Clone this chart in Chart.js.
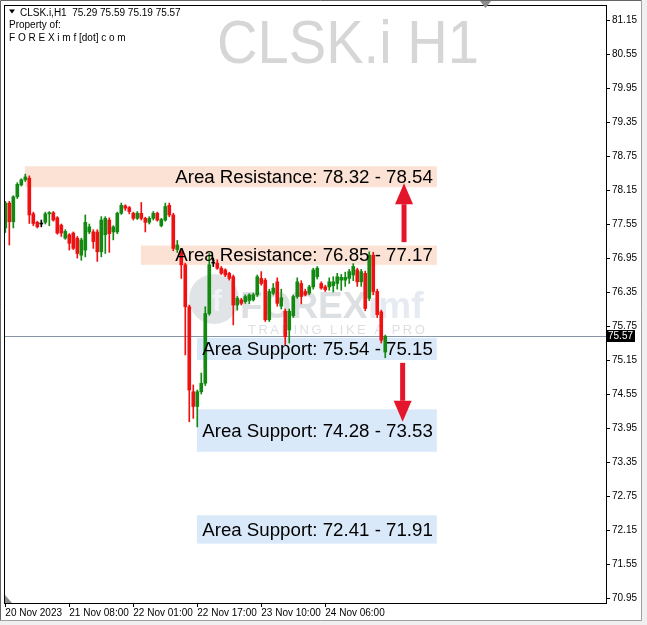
<!DOCTYPE html>
<html>
<head>
<meta charset="utf-8">
<script src="https://cdn.jsdelivr.net/npm/chart.js@4.4.0/dist/chart.umd.min.js"></script>
<style>
  html, body { margin: 0; padding: 0; background: #fff; overflow: hidden; }
  canvas { display: block; }
</style>
</head>
<body>
<canvas id="chart" width="647" height="625"></canvas>
<script>
// CLSK.i H1 candles, one entry per bar
const opens = [
    77.48, 77.92, 77.59, 78.03, 78.24, 78.33, 78.36, 77.73, 77.58, 77.55,
    77.58, 77.73, 77.75, 77.66, 77.53, 77.30, 77.36, 77.39, 77.30, 77.00,
    77.09, 77.41, 77.41, 77.41, 77.06, 77.36, 77.62, 77.41, 77.41, 77.74,
    77.87, 77.84, 77.74, 77.65, 77.74, 77.65, 77.58, 77.65, 77.74, 77.52,
    77.62, 77.88, 77.71, 77.10, 77.06, 76.83, 76.09, 74.59, 74.33, 74.59,
    74.74, 75.97, 76.86, 76.86, 76.77, 76.74, 76.68, 76.62, 76.12, 76.21,
    76.18, 76.20, 76.21, 76.30, 76.59, 76.56, 75.86, 76.33, 76.53, 76.10,
    76.01, 75.68, 75.93, 76.27, 76.50, 76.36, 76.33, 76.44, 76.62, 76.50,
    76.44, 76.44, 76.46, 76.50, 76.56, 76.56, 76.59, 76.65, 76.74, 76.53,
    76.68, 76.24, 77.00, 76.36, 76.00, 75.29
];
const highs = [
    77.95, 77.95, 78.05, 78.28, 78.35, 78.43, 78.40, 77.76, 77.60, 77.62,
    77.76, 77.77, 77.77, 77.68, 77.55, 77.45, 77.38, 77.41, 77.33, 77.30,
    77.71, 77.55, 77.45, 77.45, 77.68, 77.68, 77.66, 77.52, 77.76, 77.92,
    77.89, 77.86, 77.76, 77.77, 77.93, 77.67, 77.68, 77.77, 77.76, 77.65,
    77.92, 77.92, 77.74, 77.26, 77.10, 76.86, 76.12, 74.71, 74.62, 74.92,
    76.09, 77.03, 76.95, 76.92, 76.80, 76.76, 76.70, 76.65, 76.27, 76.24,
    76.30, 76.32, 76.33, 76.65, 76.71, 76.59, 76.40, 76.50, 76.60, 76.40,
    76.05, 76.05, 76.30, 76.60, 76.55, 76.40, 76.47, 76.77, 76.80, 76.53,
    76.47, 76.60, 76.62, 76.68, 76.66, 76.70, 76.75, 76.85, 76.77, 76.75,
    76.72, 77.06, 77.05, 76.40, 76.03, 75.59
];
const lows = [
    77.40, 77.18, 77.48, 78.00, 78.22, 78.30, 77.56, 77.52, 77.48, 77.50,
    77.55, 77.52, 77.60, 77.37, 77.33, 77.28, 77.09, 77.10, 76.95, 76.91,
    76.97, 77.38, 77.12, 76.89, 76.97, 77.03, 77.05, 77.27, 77.38, 77.72,
    77.79, 77.73, 77.62, 77.63, 77.62, 77.41, 77.55, 77.62, 77.60, 77.50,
    77.60, 77.68, 77.08, 77.05, 76.59, 75.24, 74.06, 74.12, 73.97, 74.55,
    74.70, 75.94, 76.80, 76.75, 76.66, 76.62, 76.56, 75.77, 76.03, 76.12,
    76.15, 76.14, 76.19, 76.27, 76.47, 75.83, 75.83, 76.30, 76.10, 76.05,
    75.41, 75.45, 75.90, 76.24, 76.14, 76.28, 76.30, 76.40, 76.58, 76.40,
    76.36, 76.38, 76.35, 76.40, 76.38, 76.45, 76.50, 76.55, 76.45, 76.45,
    76.02, 76.20, 76.30, 75.90, 75.45, 75.19
];
const closes = [
    77.92, 77.59, 78.03, 78.25, 78.33, 78.38, 77.71, 77.56, 77.50, 77.55,
    77.73, 77.75, 77.62, 77.39, 77.39, 77.42, 77.21, 77.12, 77.03, 77.27,
    77.58, 77.50, 77.24, 77.06, 77.62, 77.65, 77.38, 77.50, 77.74, 77.88,
    77.83, 77.77, 77.65, 77.74, 77.65, 77.58, 77.65, 77.74, 77.62, 77.63,
    77.86, 77.71, 77.12, 77.18, 76.83, 76.09, 74.62, 74.33, 74.59, 74.74,
    75.97, 76.83, 76.86, 76.77, 76.68, 76.65, 76.59, 76.12, 76.24, 76.15,
    76.27, 76.30, 76.30, 76.62, 76.50, 75.86, 76.36, 76.42, 76.15, 76.25,
    75.56, 76.01, 76.27, 76.53, 76.27, 76.30, 76.44, 76.74, 76.77, 76.42,
    76.39, 76.53, 76.53, 76.62, 76.61, 76.61, 76.71, 76.80, 76.53, 76.71,
    76.06, 77.00, 76.36, 75.95, 75.50, 75.57
];

// axis ticks
const yTicks = [70.95, 71.55, 72.15, 72.75, 73.35, 73.95, 74.55, 75.15, 75.75,
                76.35, 76.95, 77.55, 78.15, 78.75, 79.35, 79.95, 80.55, 81.15];
const xTickBars = [0, 16, 32, 48, 64, 80];
const xTickLabels = ['20 Nov 2023', '21 Nov 08:00', '22 Nov 01:00',
                     '22 Nov 17:00', '23 Nov 10:00', '24 Nov 06:00'];

// drawn areas (bar index range, price range)
const zoneLabels = ['Area Resistance: 78.32 - 78.54', 'Area Resistance: 76.85 - 77.17',
                    'Area Support: 75.54 - 75.15', 'Area Support: 74.28 - 73.53',
                    'Area Support: 72.41 - 71.91'];
const zoneKinds = ['res', 'res', 'sup', 'sup', 'sup'];
const zoneFromBar = [4.9, 33.9, 47.9, 47.9, 47.9];
const zoneToBar = [107.9, 107.9, 107.9, 107.9, 107.9];
const zoneLow = [78.20, 76.83, 75.15, 73.53, 71.91];
const zoneHigh = [78.57, 77.17, 75.54, 74.28, 72.41];

// arrows (bar index, from price, to price)
const arrowBars = [99.7, 99.35];
const arrowFrom = [77.23, 75.10];
const arrowTo = [78.27, 74.06];

const lastPrice = 75.57;
const headerLine = 'CLSK.i,H1  75.29 75.59 75.19 75.57';

const BULL = '#128a12';
const BEAR = '#ee1111';
const FONT = "'Liberation Sans', Arial, sans-serif";

const candleColors = opens.map((o, i) => {
    if (closes[i] > o) return BULL;
    if (closes[i] < o) return BEAR;
    return '#000000';
});

const decor = {
    id: 'decor',
    beforeDraw(chart) {
        const c = chart.ctx;
        c.save();
        c.fillStyle = '#ffffff';
        c.fillRect(0, 0, chart.width, chart.height);
        // window frame
        c.fillStyle = '#f0f0f0';
        c.fillRect(642, 0, 5, chart.height);
        c.fillRect(0, 620, chart.width, 5);
        c.strokeStyle = '#a0a0a0';
        c.lineWidth = 1;
        c.beginPath();
        c.moveTo(641.5, 0); c.lineTo(641.5, 620.5); c.lineTo(0, 620.5);
        c.stroke();
        c.strokeStyle = '#646464';
        c.beginPath();
        c.moveTo(0.5, 620); c.lineTo(0.5, 0.5); c.lineTo(641, 0.5);
        c.stroke();
        c.restore();
    },
    beforeDatasetsDraw(chart) {
        const c = chart.ctx;
        const xs = chart.scales.x, ys = chart.scales.y;
        const area = chart.chartArea;
        c.save();

        // big symbol watermark
        c.fillStyle = 'rgb(214,214,214)';
        c.font = '61px ' + FONT;
        c.textAlign = 'center';
        c.textBaseline = 'alphabetic';
        c.save();
        c.translate(348, 63);
        c.scale(0.92, 1);
        c.fillText('CLSK.i H1', 0, 0);
        c.restore();

        // areas
        zoneLabels.forEach((lbl, i) => {
            const x1 = xs.getPixelForValue(zoneFromBar[i]);
            const x2 = xs.getPixelForValue(zoneToBar[i]);
            const y1 = ys.getPixelForValue(zoneHigh[i]);
            const y2 = ys.getPixelForValue(zoneLow[i]);
            c.fillStyle = zoneKinds[i] === 'res' ? 'rgb(252,226,212)' : 'rgb(218,233,249)';
            c.fillRect(x1, y1, x2 - x1, y2 - y1);
        });

        // broker logo watermark
        c.fillStyle = 'rgba(120,130,142,0.22)';
        c.beginPath();
        c.arc(214, 299, 25, 0, Math.PI * 2);
        c.fill();
        c.fillStyle = 'rgba(255,255,255,0.55)';
        c.font = 'bold 30px ' + FONT;
        c.textAlign = 'center';
        c.fillText('f', 217, 311);
        c.textAlign = 'left';
        c.font = 'bold 37px ' + FONT;
        c.fillStyle = 'rgba(120,130,142,0.25)';
        c.fillText('FOREX', 240, 318);
        c.fillStyle = 'rgba(150,175,200,0.25)';
        c.fillText('imf', 368, 318);
        c.font = '13px ' + FONT;
        c.letterSpacing = '2.5px';
        c.fillStyle = 'rgba(130,140,150,0.28)';
        c.fillText('TRADING LIKE A PRO', 248, 334);
        c.letterSpacing = '0px';

        // last price line
        const py = Math.round(ys.getPixelForValue(lastPrice)) + 0.5;
        c.strokeStyle = '#8796a6';
        c.lineWidth = 1;
        c.beginPath();
        c.moveTo(area.left, py);
        c.lineTo(area.right, py);
        c.stroke();
        c.restore();
    },
    afterDatasetsDraw(chart) {
        const c = chart.ctx;
        const xs = chart.scales.x, ys = chart.scales.y;
        const area = chart.chartArea;
        c.save();

        // area captions
        c.fillStyle = '#000';
        c.font = '18.7px ' + FONT;
        c.textAlign = 'right';
        c.textBaseline = 'middle';
        zoneLabels.forEach((lbl, i) => {
            const x2 = xs.getPixelForValue(zoneToBar[i]);
            const ym = (ys.getPixelForValue(zoneHigh[i]) + ys.getPixelForValue(zoneLow[i])) / 2;
            c.fillText(lbl, x2 - 4, ym + 1);
        });

        // arrows
        c.fillStyle = '#e3162c';
        c.strokeStyle = '#e3162c';
        arrowBars.forEach((b, i) => {
            const x = xs.getPixelForValue(b);
            const y1 = ys.getPixelForValue(arrowFrom[i]);
            const y2 = ys.getPixelForValue(arrowTo[i]);
            const dir = y2 < y1 ? -1 : 1;
            const head = 21;
            c.lineWidth = 5;
            c.beginPath();
            c.moveTo(x, y1);
            c.lineTo(x, y2 - dir * head);
            c.stroke();
            c.beginPath();
            c.moveTo(x, y2);
            c.lineTo(x - 9, y2 - dir * head);
            c.lineTo(x + 9, y2 - dir * head);
            c.closePath();
            c.fill();
        });

        // chart frame
        c.strokeStyle = '#000';
        c.lineWidth = 1;
        c.strokeRect(area.left + 0.5, area.top + 0.5, area.right - area.left, area.bottom - area.top);

        // last price tag
        const py = ys.getPixelForValue(lastPrice);
        c.fillStyle = '#000';
        c.fillRect(area.right, Math.round(py) - 6, 29, 12);
        c.fillStyle = '#fff';
        c.font = '10px ' + FONT;
        c.textAlign = 'left';
        c.textBaseline = 'middle';
        c.fillText(lastPrice.toFixed(2), area.right + 2, Math.round(py) + 0.5);

        // header text
        c.fillStyle = '#000';
        c.beginPath();
        c.moveTo(9, 9.5); c.lineTo(15, 9.5); c.lineTo(12, 13.5);
        c.closePath();
        c.fill();
        c.font = '10px ' + FONT;
        c.textBaseline = 'alphabetic';
        c.fillText(headerLine, 20, 16);
        c.fillText('Property of:', 9, 28);
        c.fillText('F O R E X i m f [dot] c o m', 9, 41);

        // chart shift / scale markers
        c.fillStyle = '#8c8c8c';
        c.beginPath();
        c.moveTo(480, 1); c.lineTo(491, 1); c.lineTo(485.5, 8);
        c.closePath();
        c.fill();
        c.beginPath();
        c.moveTo(area.left + 1, area.bottom - 8); c.lineTo(area.left + 1, area.bottom);
        c.lineTo(area.left + 8, area.bottom);
        c.closePath();
        c.fill();
        c.restore();
    }
};

const ctx = document.getElementById('chart');

new Chart(ctx, {
    type: 'bar',
    data: {
        datasets: [
            {
                label: 'wick',
                data: opens.map((o, i) => ({ x: i, y: [lows[i], highs[i]] })),
                backgroundColor: candleColors,
                barThickness: 1,
                grouped: false,
                order: 2
            },
            {
                label: 'body',
                data: opens.map((o, i) => ({ x: i, y: [o, closes[i]] })),
                backgroundColor: candleColors,
                barThickness: 3,
                minBarLength: 1,
                grouped: false,
                order: 1
            }
        ]
    },
    options: {
        responsive: false,
        animation: false,
        layout: { padding: { top: 5, left: 4, right: 0, bottom: 0 } },
        plugins: {
            legend: { display: false },
            tooltip: { enabled: false }
        },
        scales: {
            x: {
                type: 'linear',
                position: 'bottom',
                min: -0.33,
                max: 150.2,
                offset: false,
                afterBuildTicks: s => { s.ticks = xTickBars.map(v => ({ value: v })); },
                afterFit: s => { s.height = 22; s.paddingLeft = 0; s.paddingRight = 0; },
                grid: { offset: false, drawOnChartArea: false, drawTicks: true, tickLength: 4, color: '#000' },
                border: { color: '#000' },
                ticks: {
                    autoSkip: false,
                    maxRotation: 0,
                    align: 'start',
                    padding: 0,
                    color: '#000',
                    font: { family: FONT, size: 10 },
                    callback: v => xTickLabels[xTickBars.indexOf(v)]
                }
            },
            y: {
                position: 'right',
                min: 70.862,
                max: 81.415,
                afterBuildTicks: s => { s.ticks = yTicks.map(v => ({ value: v })); },
                afterFit: s => { s.width = 41; s.paddingTop = 0; s.paddingBottom = 0; },
                grid: { drawOnChartArea: false, drawTicks: true, tickLength: 4, color: '#000' },
                border: { color: '#000' },
                ticks: {
                    padding: 2,
                    color: '#000',
                    font: { family: FONT, size: 10 },
                    callback: v => v.toFixed(2)
                }
            }
        }
    },
    plugins: [decor]
});
</script>
</body>
</html>
